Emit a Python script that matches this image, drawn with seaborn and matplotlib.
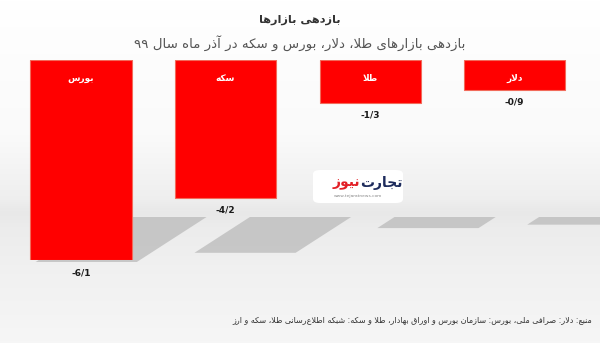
import numpy as np
import pandas as pd
import matplotlib
matplotlib.use("Agg")
import matplotlib.pyplot as plt
import seaborn as sns
from matplotlib.patches import FancyBboxPatch, Polygon

# ---------------- data ----------------
categories = ["بورس", "سکه", "طلا", "دلار"]
values = [-6.1, -4.2, -1.3, -0.9]
value_labels = ["-6/1", "-4/2", "-1/3", "-0/9"]
title_text = "بازدهی بازارها"
subtitle_text = "بازدهی بازارهای طلا، دلار، بورس و سکه در آذر ماه سال ۹۹"
source_text = "منبع: دلار: صرافی ملی، بورس: سازمان بورس و اوراق بهادار، طلا و سکه: شبکه اطلاع\u200cرسانی طلا، سکه و ارز"
logo_a = "تجارت"
logo_b = "نیوز"
logo_url = "www.tejaratnews.com"

# ---------------- minimal Persian shaping ----------------
FORMS = {  # isolated, final, initial, medial
    'ا': ('\uFE8D', '\uFE8E', None, None),
    'آ': ('\uFE81', '\uFE82', None, None),
    'ب': ('\uFE8F', '\uFE90', '\uFE91', '\uFE92'),
    'ت': ('\uFE95', '\uFE96', '\uFE97', '\uFE98'),
    'ج': ('\uFE9D', '\uFE9E', '\uFE9F', '\uFEA0'),
    'د': ('\uFEA9', '\uFEAA', None, None),
    'ذ': ('\uFEAB', '\uFEAC', None, None),
    'ر': ('\uFEAD', '\uFEAE', None, None),
    'ز': ('\uFEAF', '\uFEB0', None, None),
    'س': ('\uFEB1', '\uFEB2', '\uFEB3', '\uFEB4'),
    'ش': ('\uFEB5', '\uFEB6', '\uFEB7', '\uFEB8'),
    'ص': ('\uFEB9', '\uFEBA', '\uFEBB', '\uFEBC'),
    'ط': ('\uFEC1', '\uFEC2', '\uFEC3', '\uFEC4'),
    'ع': ('\uFEC9', '\uFECA', '\uFECB', '\uFECC'),
    'ف': ('\uFED1', '\uFED2', '\uFED3', '\uFED4'),
    'ق': ('\uFED5', '\uFED6', '\uFED7', '\uFED8'),
    'ک': ('\uFB8E', '\uFB8F', '\uFB90', '\uFB91'),
    'ل': ('\uFEDD', '\uFEDE', '\uFEDF', '\uFEE0'),
    'م': ('\uFEE1', '\uFEE2', '\uFEE3', '\uFEE4'),
    'ن': ('\uFEE5', '\uFEE6', '\uFEE7', '\uFEE8'),
    'ه': ('\uFEE9', '\uFEEA', '\uFEEB', '\uFEEC'),
    'و': ('\uFEED', '\uFEEE', None, None),
    'ی': ('\uFBFC', '\uFBFD', '\uFBFE', '\uFBFF'),
}
LAMALEF = {'ا': ('\uFEFB', '\uFEFC'), 'آ': ('\uFEF5', '\uFEF6')}


def dual(c):
    return c in FORMS and FORMS[c][2] is not None


def shape(text):
    out = []
    i = 0
    n = len(text)
    while i < n:
        c = text[i]
        if c not in FORMS:
            if c != '\u200c':
                out.append(c)
            i += 1
            continue
        prev = text[i - 1] if i > 0 else ''
        jp = dual(prev)
        if c == 'ل' and i + 1 < n and text[i + 1] in LAMALEF:
            out.append(LAMALEF[text[i + 1]][1 if jp else 0])
            i += 2
            continue
        nxt = text[i + 1] if i + 1 < n else ''
        jn = dual(c) and nxt in FORMS
        iso, fin, ini, med = FORMS[c]
        if jp and jn:
            out.append(med)
        elif jp:
            out.append(fin)
        elif jn:
            out.append(ini)
        else:
            out.append(iso)
        i += 1
    return ''.join(out)[::-1]


# ---------------- figure ----------------
sns.set_theme(style="white")
plt.rcParams['font.family'] = ['DejaVu Sans']

W, H = 600, 343
fig = plt.figure(figsize=(6.0, 3.43), dpi=100)

# background gradient (pixel coordinates, y downward)
bg = fig.add_axes([0, 0, 1, 1], zorder=-10)
yy = np.linspace(0, 1, 343)
stops_y = [0.0, 0.40, 0.58, 0.62, 0.66, 0.80, 1.0]
stops_v = [1.0, 0.98, 0.935, 0.91, 0.925, 0.945, 0.965]
grad = np.interp(yy, stops_y, stops_v)
img = np.repeat(grad[:, None], 10, axis=1)
bg.imshow(np.dstack([img, img, img]), aspect='auto', extent=[0, W, H, 0])
bg.set_xlim(0, W)
bg.set_ylim(H, 0)
bg.axis('off')

# main axes: from y=60px (zero) to y=260px (min value)
top_px, bot_px = 60, 260
ax = fig.add_axes([0, 1 - bot_px / H, 1, (bot_px - top_px) / H])
ax.patch.set_alpha(0)

df = pd.DataFrame({"cat": categories, "val": values})
sns.barplot(data=df, x="cat", y="val", order=categories, color="#ff0000",
            width=0.70, saturation=1, edgecolor="#f26a5a", linewidth=0.8, ax=ax)
ax.set_xlim(-0.56, 3.59)
ax.set_ylim(min(values), 0)
ax.axis('off')

for i, (c, v, lab) in enumerate(zip(categories, values, value_labels)):
    ax.annotate(shape(c), xy=(i, 0), xytext=(0, -13), textcoords='offset points',
                ha='center', va='center', color='white', fontsize=6.5,
                fontweight='bold', annotation_clip=False)
    ax.annotate(lab, xy=(i, v), xytext=(0, -9), textcoords='offset points',
                ha='center', va='center', color='#1a1a1a', fontsize=6.5,
                fontweight='bold', annotation_clip=False)

# floor reflections derived from the drawn bars (decorative)
fig.canvas.draw()
floor_y = 217
for p in ax.patches:
    bb = p.get_window_extent()
    x0, x1 = bb.x0, bb.x1
    bar_bottom_px = H - bb.y0
    h = 0.26 * bb.height
    if bar_bottom_px > floor_y:
        h = min(h, bar_bottom_px + 2 - floor_y)
    top_shift = 75
    bot_shift = top_shift - 1.55 * h
    poly = [(x0 + top_shift, floor_y), (x1 + top_shift, floor_y),
            (x1 + bot_shift, floor_y + h), (x0 + bot_shift, floor_y + h)]
    bg.add_patch(Polygon(poly, closed=True, facecolor='#bababa',
                         edgecolor='none', alpha=0.75))

# titles
fig.text(0.5, 1 - 20 / H, shape(title_text), ha='center', va='center',
         fontsize=8.2, fontweight='bold', color='#333333')
fig.text(0.5, 1 - 43 / H, shape(subtitle_text), ha='center', va='center',
         fontsize=9.6, color='#555555')

# source
fig.text(1 - 8 / W, 1 - 320 / H, shape(source_text), ha='right', va='center',
         fontsize=5.8, color='#333333')

# logo watermark
box = FancyBboxPatch((313 / W, 1 - 203 / H), 90 / W, 33 / H,
                     boxstyle="round,pad=0,rounding_size=0.012",
                     transform=fig.transFigure, facecolor='white',
                     edgecolor='none', zorder=5)
fig.patches.append(box)
fig.text(360 / W, 1 - 183 / H, shape(logo_a), ha='left', va='center',
         fontsize=10, fontweight='bold', color='#1d2b5c', zorder=6)
fig.text(360 / W, 1 - 183 / H, shape(logo_b), ha='right', va='center',
         fontsize=10, fontweight='bold', color='#e21f26', zorder=6)
fig.text(358 / W, 1 - 196 / H, logo_url, ha='center', va='center',
         fontsize=3.2, color='#888888', zorder=6)

fig.savefig("out.png", dpi=100)
